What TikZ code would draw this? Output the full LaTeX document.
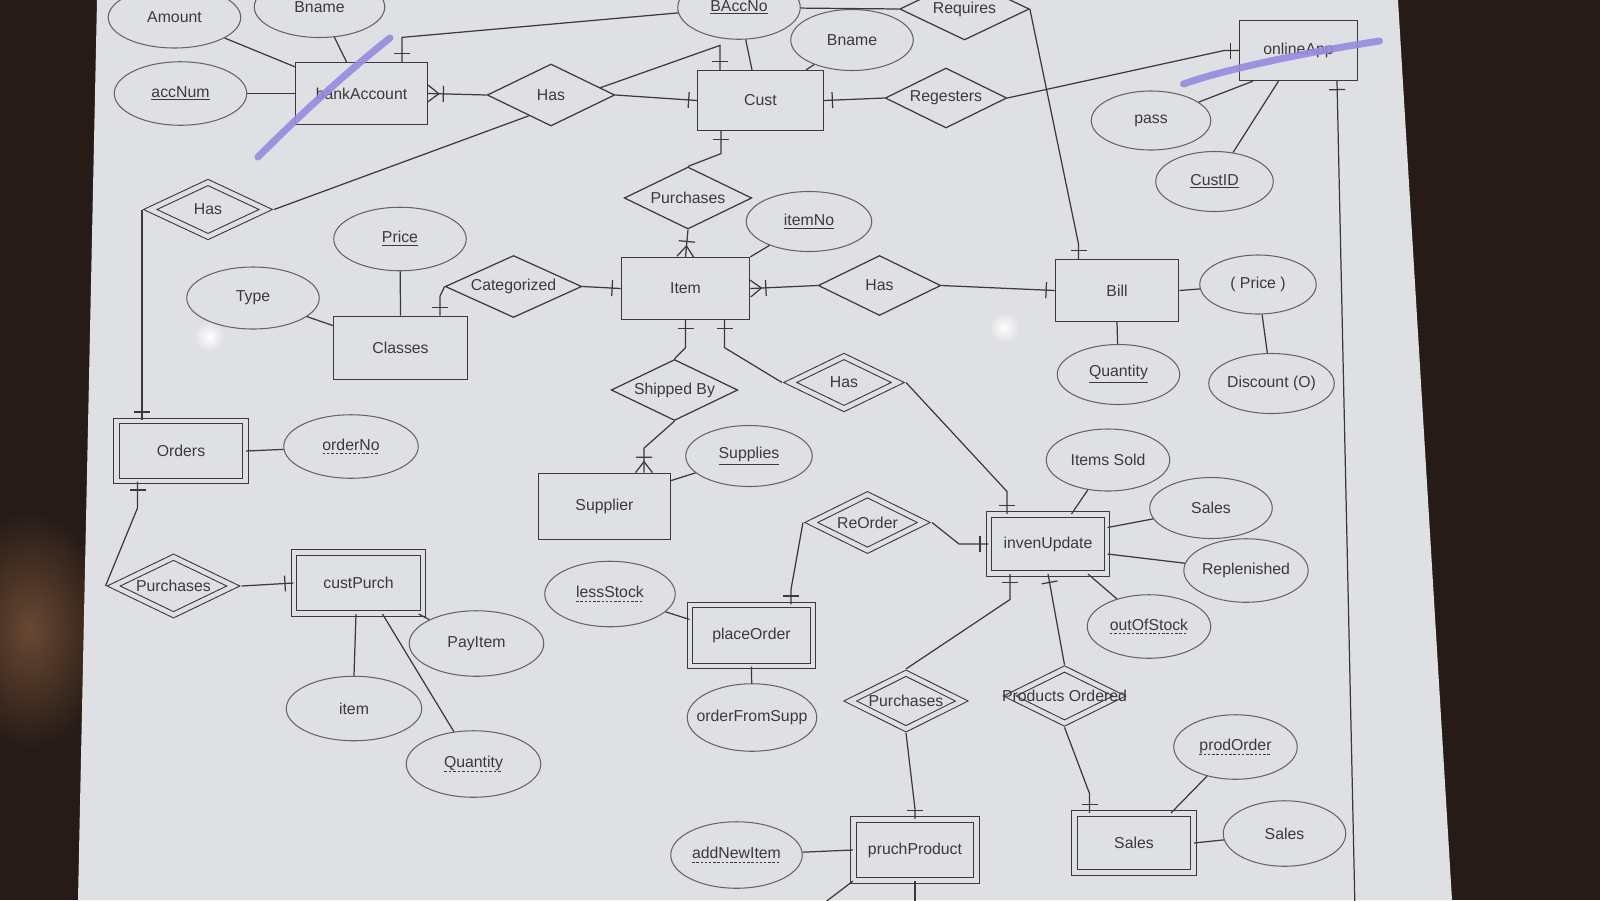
\documentclass[tikz,border=0pt]{standalone}
\usepackage{fontspec}
\setmainfont{Liberation Sans}
\usetikzlibrary{shapes.geometric, positioning, decorations.markings}

\definecolor{screen}{RGB}{223,224,227}
\definecolor{bezel}{RGB}{38,27,23}
\definecolor{glow}{RGB}{105,72,50}
\definecolor{ink}{RGB}{58,58,58}
\definecolor{oval}{RGB}{100,100,100}
\definecolor{pen}{RGB}{150,138,222}

% dashed underline for partial keys
\newcommand{\dashul}[1]{\setbox0=\hbox{#1}\rlap{\lower2pt\hbox to \wd0{\xleaders\hbox to 2.4pt{\vrule width 1.4pt height 0.45pt\hfil}\hfil}}\box0}

\tikzstyle{entity} = [rectangle, text centered, draw=ink, line width=0.7pt, inner sep=0pt, minimum width=2.5cm, minimum height=1.22cm]
\tikzstyle{weakentity} = [entity, double=screen, double distance=0.09cm, line width=0.6pt]
\tikzstyle{relation} = [diamond, aspect=2, text centered, draw=ink, line width=0.7pt, inner sep=0pt]
\tikzstyle{weakrelation} = [relation, double=screen, double distance=0.09cm, line width=0.6pt]
\tikzstyle{attr} = [ellipse, text centered, draw=oval, line width=0.6pt, inner sep=0pt, minimum width=2.5cm, minimum height=1.22cm]
\tikzstyle{conn} = [color=ink, line width=0.7pt]
\tikzstyle{barend} = [postaction={decorate, decoration={markings, mark=at position -0.17cm with {\draw[ink, line width=0.7pt] (0,-0.16cm) -- (0,0.16cm);}}}]
\tikzstyle{barstart} = [postaction={decorate, decoration={markings, mark=at position 0.17cm with {\draw[ink, line width=0.7pt] (0,-0.16cm) -- (0,0.16cm);}}}]
\tikzstyle{crowend} = [postaction={decorate, decoration={markings, mark=at position -0.22cm with {\draw[ink, line width=0.7pt] (0.22cm,0.17cm) -- (0,0) -- (0.22cm,-0.17cm) (-0.09cm,-0.16cm) -- (-0.09cm,0.16cm);}}}]
\tikzstyle{crowstart} = [postaction={decorate, decoration={markings, mark=at position 0.22cm with {\draw[ink, line width=0.7pt] (-0.22cm,0.17cm) -- (0,0) -- (-0.22cm,-0.17cm) (0.09cm,-0.16cm) -- (0.09cm,0.16cm);}}}]
\tikzstyle{pen} = [color=pen, line width=0.14cm, line cap=round, line join=round, opacity=0.9]

\begin{document}
\begin{tikzpicture}[node distance=2cm, font=\fontsize{9}{10}\selectfont, text=ink]

% photo of the screen
\useasboundingbox (0,0) rectangle (32,-18);
\fill [bezel] (0,0) rectangle (32,-18);
\shade [inner color=glow, outer color=bezel] (0.6,-12.6) ellipse (1.6cm and 2.4cm);
\fill [screen] (1.94,0) -- (27.96,0) -- (29.04,-18) -- (1.56,-18) -- cycle;
\shade [inner color=white, outer color=screen] (4.18,-6.73) circle (0.3cm);
\shade [inner color=white, outer color=screen] (20.08,-6.55) circle (0.3cm);

\node (bankacc) [entity, minimum width=2.63cm, minimum height=1.24cm] at (7.23,-1.87) {bankAccount};
\node (accnum) [attr, left of=bankacc, xshift=-1.62cm, minimum width=2.65cm, minimum height=1.27cm] {\underline{accNum}};
\node (amount) [attr, left of=bankacc, xshift=-1.74cm, yshift=1.52cm, minimum width=2.65cm] {Amount};
\node (bnamea) [attr, above of=bankacc, xshift=-0.84cm, yshift=-0.27cm, minimum width=2.61cm] {Bname};
\node (hasa) [relation, right of=bankacc, xshift=1.79cm, yshift=-0.03cm, minimum width=2.55cm, minimum height=1.24cm] {Has};
\node (cust) [entity, right of=hasa, xshift=2.19cm, yshift=-0.11cm, minimum width=2.51cm, minimum height=1.2cm] {Cust};
\node (baccno) [attr, above of=cust, xshift=-0.43cm, yshift=-0.14cm, minimum width=2.45cm, minimum height=1.27cm] {\underline{BAccNo}};
\node (bnameb) [attr, above of=cust, xshift=1.83cm, yshift=-0.79cm, minimum width=2.45cm] {Bname};
\node (regesters) [relation, right of=cust, xshift=1.71cm, yshift=0.05cm, minimum width=2.43cm, minimum height=1.2cm] {Regesters};
\node (requires) [relation, right of=baccno, xshift=2.51cm, yshift=-0.03cm, minimum width=2.59cm, minimum height=1.24cm] {Requires};
\node (onlineapp) [entity, right of=regesters, xshift=5.05cm, yshift=0.95cm, minimum width=2.35cm, minimum height=1.2cm] {onlineApp};
\node (pass) [attr, below of=onlineapp, xshift=-2.95cm, yshift=0.6cm, minimum width=2.39cm, minimum height=1.18cm] {pass};
\node (custid) [attr, below of=onlineapp, xshift=-1.68cm, yshift=-0.62cm, minimum width=2.35cm, minimum height=1.2cm] {\underline{CustID}};

\node (purcha) [relation, below of=cust, xshift=-1.45cm, yshift=0.05cm, minimum width=2.55cm, minimum height=1.24cm] {Purchases};
\node (item) [entity, below of=purcha, xshift=-0.05cm, yshift=0.19cm, minimum width=2.57cm, minimum height=1.24cm] {Item};
\node (itemno) [attr, right of=purcha, xshift=0.42cm, yshift=-0.47cm, minimum width=2.51cm, minimum height=1.2cm] {\underline{itemNo}};
\node (categorized) [relation, left of=item, xshift=-1.44cm, yshift=0.04cm, minimum width=2.73cm, minimum height=1.24cm] {Categorized};
\node (classes) [entity, below of=categorized, xshift=-2.26cm, yshift=0.77cm, minimum width=2.67cm, minimum height=1.27cm] {Classes};
\node (price) [attr, above of=classes, xshift=-0.01cm, yshift=0.18cm, minimum width=2.65cm, minimum height=1.27cm] {\underline{Price}};
\node (type) [attr, left of=classes, xshift=-0.95cm, yshift=1cm, minimum width=2.65cm, minimum height=1.24cm] {Type};
\node (hasb) [weakrelation, below of=accnum, xshift=0.55cm, yshift=-0.32cm, minimum width=2.32cm, minimum height=1.09cm] {Has};
\node (hasc) [relation, right of=item, xshift=1.88cm, yshift=0.06cm, minimum width=2.45cm, minimum height=1.2cm] {Has};
\node (bill) [entity, right of=hasc, xshift=2.75cm, yshift=-0.1cm, minimum width=2.47cm, minimum height=1.24cm] {Bill};
\node (priceb) [attr, right of=bill, xshift=0.82cm, yshift=0.12cm, minimum width=2.33cm, minimum height=1.18cm] {( Price )};
\node (quanta) [attr, below of=bill, xshift=0.03cm, yshift=0.32cm, minimum width=2.45cm, minimum height=1.2cm] {\underline{Quantity}};
\node (discount) [attr, below of=priceb, xshift=0.27cm, yshift=0.02cm, minimum width=2.39cm, minimum height=1.2cm] {Discount (O)};

\node (shipped) [relation, below of=item, xshift=-0.22cm, yshift=-0.03cm, minimum width=2.53cm, minimum height=1.22cm] {Shipped By};
\node (hasd) [weakrelation, right of=shipped, xshift=1.39cm, yshift=0.15cm, minimum width=2.16cm, minimum height=1.05cm] {Has};
\node (supplier) [entity, below of=shipped, xshift=-1.4cm, yshift=-0.33cm, minimum width=2.63cm, minimum height=1.33cm] {Supplier};
\node (supplies) [attr, right of=supplier, xshift=0.89cm, yshift=1.01cm, minimum width=2.53cm, minimum height=1.22cm] {\underline{Supplies}};
\node (orders) [weakentity, below of=hasb, xshift=-0.54cm, yshift=-2.83cm, minimum width=2.58cm, minimum height=1.2cm] {Orders};
\node (orderno) [attr, right of=orders, xshift=1.4cm, yshift=0.09cm, minimum width=2.69cm, minimum height=1.27cm] {\dashul{orderNo}};
\node (purchb) [weakrelation, below of=orders, xshift=-0.15cm, yshift=-0.7cm, minimum width=2.4cm, minimum height=1.16cm] {Purchases};
\node (custpurch) [weakentity, right of=purchb, xshift=1.7cm, yshift=0.06cm, minimum width=2.58cm, minimum height=1.22cm] {custPurch};
\node (payitem) [attr, right of=custpurch, xshift=0.36cm, yshift=-1.21cm, minimum width=2.69cm, minimum height=1.31cm] {PayItem};
\node (iteme) [attr, below of=custpurch, xshift=-0.09cm, yshift=-0.51cm, minimum width=2.71cm, minimum height=1.29cm] {item};
\node (quantb) [attr, below of=payitem, xshift=-0.06cm, yshift=-0.41cm, minimum width=2.69cm, minimum height=1.33cm] {\dashul{Quantity}};

\node (invenupdate) [weakentity, below of=bill, xshift=-1.38cm, yshift=-3.07cm, minimum width=2.36cm, minimum height=1.18cm] {invenUpdate};
\node (itemssold) [attr, above of=invenupdate, xshift=1.2cm, yshift=-0.32cm, minimum width=2.47cm, minimum height=1.24cm] {Items Sold};
\node (salesa) [attr, right of=invenupdate, xshift=1.26cm, yshift=0.72cm, minimum width=2.45cm, minimum height=1.22cm] {Sales};
\node (replenished) [attr, right of=invenupdate, xshift=1.96cm, yshift=-0.53cm, minimum width=2.45cm, minimum height=1.27cm] {Replenished};
\node (outofstock) [attr, below of=invenupdate, xshift=2.02cm, yshift=0.35cm, minimum width=2.47cm, minimum height=1.27cm] {\dashul{outOfStock}};
\node (reorder) [weakrelation, left of=invenupdate, xshift=-1.61cm, yshift=0.43cm, minimum width=2.26cm, minimum height=1.12cm] {ReOrder};
\node (placeorder) [weakentity, below of=reorder, xshift=-2.32cm, yshift=-0.26cm, minimum width=2.46cm, minimum height=1.22cm] {placeOrder};
\node (lessstock) [attr, left of=placeorder, xshift=-0.83cm, yshift=0.83cm, minimum width=2.61cm, minimum height=1.31cm] {\dashul{lessStock}};
\node (orderfromsupp) [attr, below of=placeorder, xshift=0.01cm, yshift=0.36cm, minimum width=2.59cm, minimum height=1.35cm] {\makebox[0pt]{orderFromSupp}};
\node (purchc) [weakrelation, below of=invenupdate, xshift=-2.84cm, yshift=-1.14cm, minimum width=2.24cm, minimum height=1.12cm] {Purchases};
\node (prodordered) [weakrelation, below of=invenupdate, xshift=0.33cm, yshift=-1.04cm, minimum width=2.2cm, minimum height=1.09cm] {\makebox[0pt]{Products Ordered}};
\node (pruchproduct) [weakentity, below of=purchc, xshift=0.18cm, yshift=-0.98cm, minimum width=2.46cm, minimum height=1.22cm] {pruchProduct};
\node (addnewitem) [attr, left of=pruchproduct, xshift=-1.57cm, yshift=-0.1cm, minimum width=2.63cm, minimum height=1.33cm] {\dashul{addNewItem}};
\node (salesb) [weakentity, below of=prodordered, xshift=1.39cm, yshift=-0.94cm, minimum width=2.38cm, minimum height=1.18cm] {Sales};
\node (salesc) [attr, right of=salesb, xshift=1.01cm, yshift=0.19cm, minimum width=2.45cm, minimum height=1.31cm] {Sales};
\node (prodorder) [attr, above of=salesb, xshift=2.03cm, yshift=-0.08cm, minimum width=2.47cm, minimum height=1.29cm] {\dashul{prodOrder}};

\coordinate (appdown) at (27.1,-18.2);
\coordinate (prodleft) at (16.3,-18.2);
\coordinate (proddown) at (0,-18.2);

\draw [conn] (amount) -- ([yshift=-0.1cm]bankacc.north west);
\draw [conn] (bnamea) -- ([xshift=-0.3cm]bankacc.north);
\draw [conn] (accnum) -- (bankacc);
\draw [conn, barstart] ([xshift=0.81cm]bankacc.north) -- ++(0,0.49) -- (baccno);
\draw [conn, crowstart] (bankacc.east) -- (hasa.west);
\draw [conn, barend] (hasa.east) -- (cust.west);
\draw [conn, barend] ([xshift=-0.3cm,yshift=0.146cm]hasa.east) -- ([xshift=-0.81cm,yshift=0.49cm]cust.north) -- ([xshift=-0.81cm]cust.north);
\draw [conn] ([xshift=0.2cm,yshift=-0.1cm]hasa.south west) -- ([xshift=0.15cm]hasb.east);
\draw [conn, barstart] (cust.east) -- (regesters.west);
\draw [conn, barend] (regesters.east) -- ([xshift=-0.3cm]onlineapp.west) -- (onlineapp.west);
\draw [conn] (baccno) -- ([xshift=-0.17cm]cust.north);
\draw [conn] (baccno) -- (requires.west);
\draw [conn] (bnameb) -- ([xshift=0.91cm]cust.north);
\draw [conn, barend] (requires.east) -- ([xshift=-0.77cm,yshift=0.3cm]bill.north) -- ([xshift=-0.77cm]bill.north);
\draw [conn] ([xshift=-0.91cm]onlineapp.south) -- (pass);
\draw [conn] ([xshift=-0.4cm]onlineapp.south) -- (custid);
\draw [conn, barstart] ([xshift=0.77cm]onlineapp.south) -- (appdown);

\draw [conn, barstart] ([xshift=-0.79cm]cust.south) -- ++(0,-0.45) -- (purcha.north);
\draw [conn, crowend] (purcha.south) -- (item.north);
\draw [conn] (itemno) -- (item.north east);
\draw [conn] (price) -- (classes.north);
\draw [conn] (type) -- ([yshift=-0.2cm]classes.north west);
\draw [conn, barstart] ([xshift=0.79cm]classes.north) -- ++(0,0.39) -- (categorized.west);
\draw [conn, barend] (categorized.east) -- (item.west);
\draw [conn, crowstart] (item.east) -- (hasc.west);
\draw [conn, barend] (hasc.east) -- (bill.west);
\draw [conn] (bill.east) -- (priceb);
\draw [conn] (bill.south) -- (quanta);
\draw [conn] (priceb) -- (discount);
\draw [conn, barstart] (item.south) -- ++(0,-0.55) -- (shipped.north);
\draw [conn, barstart] ([xshift=0.78cm]item.south) -- ++(0,-0.55) -- ([xshift=-0.15cm]hasd.west);
\draw [conn, crowend] (shipped.south) -- ([xshift=0.79cm,yshift=0.49cm]supplier.north) -- ([xshift=0.79cm]supplier.north);
\draw [conn] (supplies) -- ([yshift=-0.16cm]supplier.north east);
\draw [conn, barend] ([xshift=0.15cm]hasd.east) -- ([xshift=-0.82cm,yshift=0.45cm]invenupdate.north) -- ([xshift=-0.82cm]invenupdate.north);

\draw [conn, barend] ([xshift=-0.15cm]hasb.west) -- ([xshift=-0.15cm]hasb.west |- orders.north);
\draw [conn] (orders.east) -- (orderno);
\draw [conn, barstart] ([xshift=-0.87cm]orders.south) -- ++(0,-0.53) -- ([xshift=-0.15cm]purchb.west);
\draw [conn, barend] ([xshift=0.15cm]purchb.east) -- (custpurch.west);
\draw [conn] ([xshift=-0.05cm]custpurch.south) -- (iteme.north);
\draw [conn] ([xshift=0.48cm]custpurch.south) -- (quantb);
\draw [conn] ([xshift=-0.1cm]custpurch.south east) -- (payitem);

\draw [conn] (itemssold) -- ([xshift=0.47cm]invenupdate.north);
\draw [conn] (salesa) -- ([yshift=0.33cm]invenupdate.east);
\draw [conn] (replenished) -- ([yshift=-0.2cm]invenupdate.east);
\draw [conn] (outofstock) -- ([xshift=0.8cm]invenupdate.south);
\draw [conn, barend] ([xshift=0.15cm]reorder.east) -- ([xshift=-0.59cm]invenupdate.west) -- (invenupdate.west);
\draw [conn, barend] ([xshift=-0.15cm]reorder.west) -- ([xshift=0.79cm,yshift=0.3cm]placeorder.north) -- ([xshift=0.79cm]placeorder.north);
\draw [conn] (lessstock) -- ([yshift=-0.3cm]placeorder.north west);
\draw [conn] (placeorder.south) -- (orderfromsupp);
\draw [conn, barstart] ([xshift=-0.76cm]invenupdate.south) -- ++(0,-0.51) -- ([yshift=0.07cm]purchc.north);
\draw [conn, barstart] (invenupdate.south) -- ([yshift=0.07cm]prodordered.north);
\draw [conn, barend] ([yshift=-0.07cm]prodordered.south) -- ([xshift=-0.89cm,yshift=0.39cm]salesb.north) -- ([xshift=-0.89cm]salesb.north);
\draw [conn, barend] ([yshift=-0.07cm]purchc.south) -- ([yshift=0.2cm]pruchproduct.north) -- (pruchproduct.north);
\draw [conn] (prodorder) -- ([xshift=0.74cm]salesb.north);
\draw [conn] (salesb.east) -- (salesc);
\draw [conn] (addnewitem) -- (pruchproduct.west);
\draw [conn] (pruchproduct.south west) -- (prodleft);
\draw [conn] (pruchproduct.south) -- (pruchproduct.south |- proddown);

% pen marks on the screen
\draw [pen] (7.8,-0.76) .. controls (6.8,-1.55) and (5.9,-2.4) .. (5.16,-3.14);
\draw [pen] (23.67,-1.68) .. controls (24.6,-1.35) and (26.3,-1.02) .. (27.59,-0.82);

\end{tikzpicture}
\end{document}
